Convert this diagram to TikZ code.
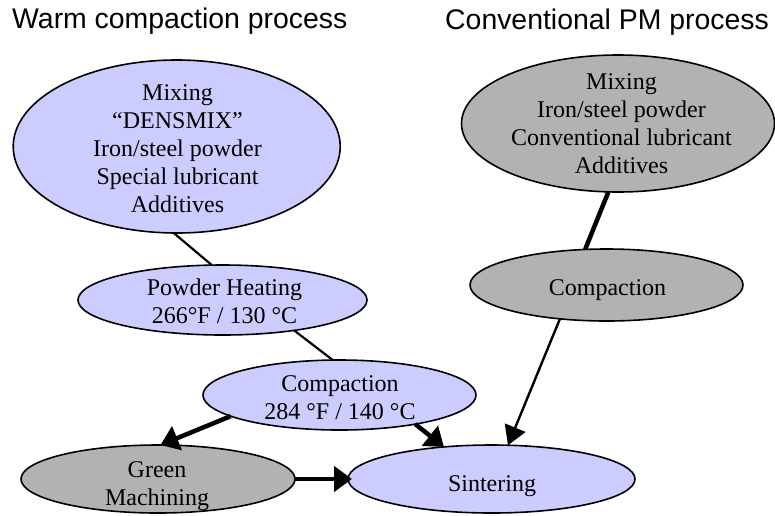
\documentclass[tikz,border=0pt]{standalone}
\usepackage{fontspec}
\setmainfont{Liberation Serif}
\newfontfamily\titlefont{Liberation Sans}
\usetikzlibrary{arrows.meta,shapes.geometric}
\definecolor{lblue}{RGB}{204,204,255}
\definecolor{lgray}{RGB}{178,178,178}
\begin{document}
\begin{tikzpicture}[x=1pt,y=-1pt,
  ell/.style={ellipse, draw=black, line width=1.6pt, inner sep=0pt, outer sep=0pt},
  blueell/.style={ell, fill=lblue},
  grayell/.style={ell, fill=lgray},
  txt/.style={inner sep=0pt, align=center, font=\fontsize{24}{28}\selectfont},
  ttl/.style={inner sep=0pt, anchor=base west, font=\titlefont\fontsize{28.4}{32}\selectfont},
  lnA/.style={line width=2.2pt},
  lnB/.style={line width=4.5pt},
  lnC/.style={line width=2.4pt},
  arrB/.style={-{Triangle[length=18pt,width=25pt]}},
  arrC/.style={-{Triangle[length=19pt,width=22pt]}},
]
\useasboundingbox (0,0) rectangle (775,515);

% titles
\node[ttl] (t1) at (12,28.5) {Warm compaction process};
\node[ttl] (t2) at (445,29) {Conventional PM process};

% ellipses
\node[blueell, minimum width=327pt, minimum height=173pt] (mixw) at (176.7,146.5) {};
\node[blueell, minimum width=289pt, minimum height=70pt] (ph) at (222.5,300) {};
\node[blueell, minimum width=273pt, minimum height=70pt] (cw) at (339.5,395) {};
\node[grayell, minimum width=274pt, minimum height=68pt] (gm) at (158,479) {};
\node[blueell, minimum width=287pt, minimum height=68pt] (sint) at (491.5,479) {};
\node[grayell, minimum width=313pt, minimum height=137pt] (cm) at (618,123.5) {};
\node[grayell, minimum width=273pt, minimum height=72pt] (cc) at (606.5,285) {};

% texts
\node[txt] (mixwt) at (177.5,150.4) {\strut Mixing\\\strut “DENSMIX”\\\strut Iron/steel powder\\\strut Special lubricant\\\strut Additives};
\node[txt] (pht) at (224.5,303.9) {\strut Powder Heating\\\strut 266°F / 130 °C};
\node[txt] (cwt) at (340,399.4) {\strut Compaction\\\strut 284 °F / 140 °C};
\node[txt] (gmt) at (157,485.7) {\strut Green\\\strut Machining};
\node[txt] (sintt) at (492,486.1) {\strut Sintering};
\node[txt] (cmt) at (621.5,125.9) {\strut Mixing\\\strut Iron/steel powder\\\strut Conventional lubricant\\\strut Additives};
\node[txt] (cct) at (607.5,289.4) {\strut Compaction};

% connectors
\draw[lnA] (mixw.-92.6) -- (ph.107.4);
\draw[lnA] (ph.-23.8) -- (cw.101.5);
\draw[lnB, arrB] (cw.191) -- (gm.86.8);
\draw[lnB, arrB] (cw.-21.2) -- (sint.146.6);
\draw[lnB, arrB, shorten >=-4pt] (gm.east) -- (sint.west);
\draw[lnB] (cm.-98.3) -- (cc.121.6);
\draw[lnC, arrC] (cc.-144.7) -- (sint.64.1);
\end{tikzpicture}
\end{document}
